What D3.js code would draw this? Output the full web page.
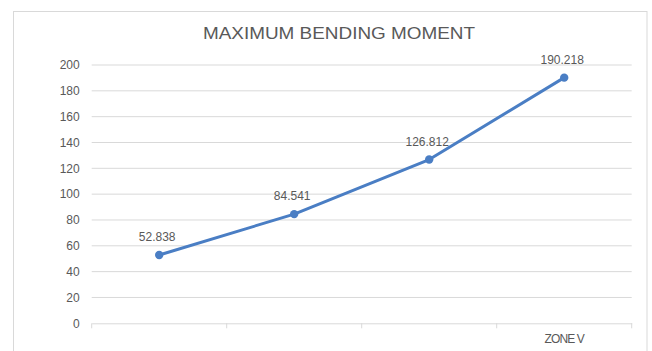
<!DOCTYPE html>
<html>
<head>
<meta charset="utf-8">
<script src="https://cdn.jsdelivr.net/npm/d3@7"></script>
<style>
  html, body { margin: 0; padding: 0; background: #fff; }
  svg { display: block; }
  text { font-family: "Liberation Sans", Arial, sans-serif; }
</style>
</head>
<body>
<svg id="chart" width="652" height="351"></svg>
<script>
// Maximum bending moment per zone
const categories = ["ZONE II", "ZONE III", "ZONE IV", "ZONE V"];
const categoryLabels = ["", "", "", "ZONE V"];
const moments = [52.838, 84.541, 126.812, 190.218];
const yTicks = [0, 20, 40, 60, 80, 100, 120, 140, 160, 180, 200];
const title = "MAXIMUM BENDING MOMENT";

const svg = d3.select("#chart");
const plot = { left: 91.7, right: 631.7, top: 65, bottom: 323.3 };

// outer chart frame
svg.append("rect")
  .attr("x", 13.5).attr("y", 11.5)
  .attr("width", 633.5).attr("height", 360)
  .attr("fill", "#fff")
  .attr("stroke", "#d9d9d9").attr("stroke-width", 1);

svg.append("text")
  .attr("x", 339).attr("y", 38.5)
  .attr("text-anchor", "middle")
  .attr("font-size", 17)
  .attr("fill", "#595959")
  .attr("textLength", 272)
  .attr("lengthAdjust", "spacingAndGlyphs")
  .text(title);

const x = d3.scaleBand().domain(categories).range([plot.left, plot.right]);
const y = d3.scaleLinear().domain([0, 200]).range([plot.bottom, plot.top]);

// horizontal gridlines
svg.append("g")
  .selectAll("line")
  .data(yTicks.filter(d => d > 0))
  .join("line")
  .attr("x1", plot.left).attr("x2", plot.right)
  .attr("y1", d => y(d)).attr("y2", d => y(d))
  .attr("stroke", "#d9d9d9").attr("stroke-width", 1);

// value axis
const yAxis = svg.append("g")
  .attr("transform", `translate(${plot.left},0)`)
  .call(d3.axisLeft(y).tickValues(yTicks).tickSize(0).tickPadding(12));
yAxis.select(".domain").remove();
yAxis.selectAll("text")
  .attr("font-size", 12)
  .attr("fill", "#595959")
  .attr("font-family", "Liberation Sans, Arial, sans-serif");

// category axis with boundary ticks
const xAxis = svg.append("g")
  .attr("transform", `translate(0,${plot.bottom})`)
  .call(d3.axisBottom(x).tickSize(0).tickPadding(11)
    .tickFormat((d, i) => categoryLabels[i]));
xAxis.select(".domain")
  .attr("stroke", "#d9d9d9");
xAxis.selectAll("text")
  .attr("font-size", 12)
  .attr("fill", "#595959")
  .attr("letter-spacing", "-0.9")
  .attr("font-family", "Liberation Sans, Arial, sans-serif");

const bounds = categories.map(c => x(c)).concat([x(categories[categories.length - 1]) + x.bandwidth()]);
xAxis.append("g")
  .selectAll("line")
  .data(bounds)
  .join("line")
  .attr("x1", d => d).attr("x2", d => d)
  .attr("y1", 0).attr("y2", 5)
  .attr("stroke", "#d9d9d9");

const pts = categories.map((c, i) => ({ c, v: moments[i] }));
const cx = d => x(d.c) + x.bandwidth() / 2;

const lineColor = "#4a7ec4";
svg.append("path")
  .datum(pts)
  .attr("fill", "none")
  .attr("stroke", lineColor)
  .attr("stroke-width", 3)
  .attr("stroke-linejoin", "round")
  .attr("stroke-linecap", "round")
  .attr("d", d3.line().x(cx).y(d => y(d.v)));

svg.append("g")
  .selectAll("circle")
  .data(pts)
  .join("circle")
  .attr("cx", cx)
  .attr("cy", d => y(d.v))
  .attr("r", 4.2)
  .attr("fill", lineColor);

// data labels
svg.append("g")
  .selectAll("text")
  .data(pts)
  .join("text")
  .attr("x", d => cx(d) - 2)
  .attr("y", d => y(d.v) - 14)
  .attr("text-anchor", "middle")
  .attr("font-size", 12)
  .attr("fill", "#595959")
  .text(d => d3.format(".3f")(d.v));
</script>
</body>
</html>
